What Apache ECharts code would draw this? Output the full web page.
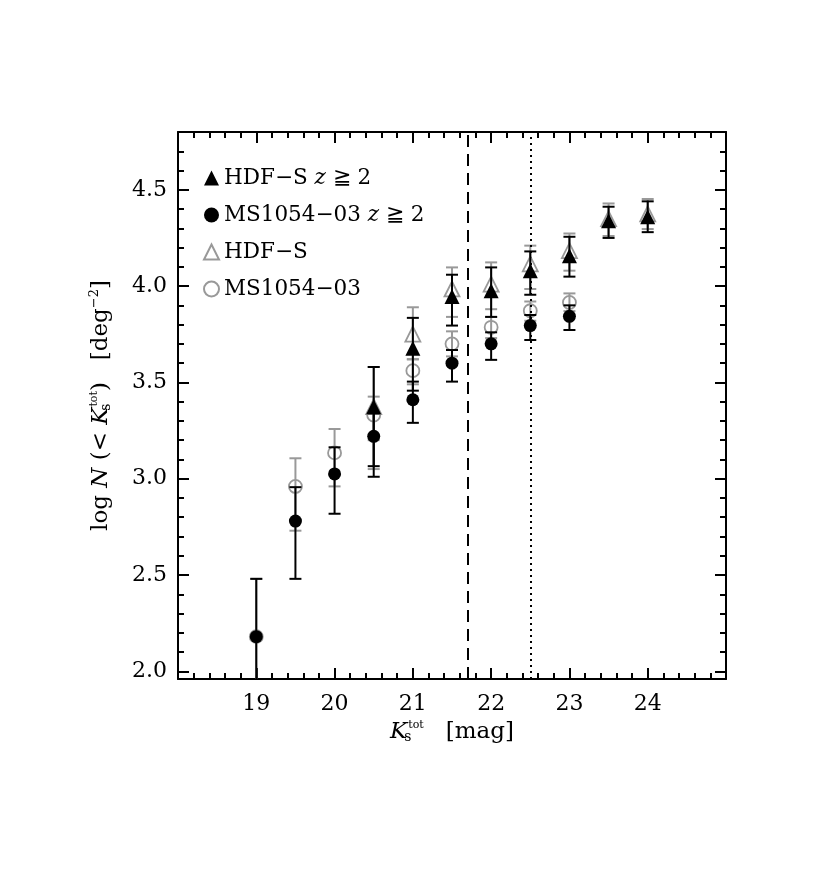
<!DOCTYPE html>
<html><head><meta charset="utf-8">
<script src="https://cdn.jsdelivr.net/npm/echarts@6/dist/echarts.min.js"></script>
<style>html,body{margin:0;padding:0;background:#fff}#c{width:830px;height:891px}</style>
</head><body><div id="c"></div>
<script>
// ---------- data ----------
// MS1054-03 z>=2 (black filled circles)
const msZ2Mag = [19, 19.5, 20, 20.5, 21, 21.5, 22, 22.5, 23];
const msZ2Val = [2.18, 2.78, 3.025, 3.22, 3.41, 3.60, 3.70, 3.795, 3.843];
const msZ2Lo  = [1.88, 2.48, 2.818, 3.065, 3.29, 3.504, 3.617, 3.72, 3.772];
const msZ2Hi  = [2.48, 2.956, 3.163, 3.34, 3.504, 3.668, 3.76, 3.85, 3.90];
// MS1054-03 all (grey open circles)
const msAllMag = [19, 19.5, 20, 20.5, 21, 21.5, 22, 22.5, 23];
const msAllVal = [2.18, 2.96, 3.134, 3.33, 3.561, 3.70, 3.786, 3.872, 3.915];
const msAllLo  = [1.88, 2.73, 2.96, 3.20, 3.49, 3.635, 3.73, 3.82, 3.87];
const msAllHi  = [2.48, 3.106, 3.258, 3.426, 3.62, 3.765, 3.84, 3.92, 3.962];
// HDF-S z>=2 (black filled triangles)
const hdfZ2Mag = [20.5, 21, 21.5, 22, 22.5, 23, 23.5, 24];
const hdfZ2Val = [3.374, 3.677, 3.946, 3.976, 4.08, 4.158, 4.339, 4.36];
const hdfZ2Lo  = [3.01, 3.457, 3.795, 3.84, 3.955, 4.049, 4.25, 4.28];
const hdfZ2Hi  = [3.58, 3.835, 4.059, 4.097, 4.18, 4.256, 4.412, 4.44];
// HDF-S all (grey open triangles)
const hdfAllMag = [20.5, 21, 21.5, 22, 22.5, 23, 23.5, 24];
const hdfAllVal = [3.374, 3.751, 3.985, 4.01, 4.115, 4.184, 4.35, 4.375];
const hdfAllLo  = [3.05, 3.62, 3.84, 3.88, 3.985, 4.08, 4.26, 4.296];
const hdfAllHi  = [3.58, 3.89, 4.097, 4.123, 4.21, 4.273, 4.429, 4.452];
// completeness limits
const dashedMag = 21.7;
const dottedMag = 22.5;
// axes
const xMin = 18, xMax = 25, yMin = 1.96, yMax = 4.8;
const xMajor = [18, 19, 20, 21, 22, 23, 24, 25];
const xTickLabels = [19, 20, 21, 22, 23, 24];
const yMajor = [2.0, 2.5, 3.0, 3.5, 4.0, 4.5];
const yTickLabels = [2.0, 2.5, 3.0, 3.5, 4.0, 4.5];

// ---------- build ----------
const xMinor = []; for (let i = 0; i <= 35; i++) xMinor.push(+(18 + i * 0.2).toFixed(2));
const yMinor = []; for (let i = 0; i <= 28; i++) yMinor.push(+(2.0 + i * 0.1).toFixed(2));

const F = 'DejaVu Serif';
const BLACK = '#000', GREY = '#999';
const TS = 23;
const rich = {
  r: {fontFamily: F, fontSize: TS, color: BLACK},
  i: {fontFamily: F, fontSize: TS, fontStyle: 'italic', color: BLACK},
  sub: {fontFamily: F, fontSize: 14, color: BLACK, padding: [10, 0, 0, 0], width: 1},
  sup: {fontFamily: F, fontSize: 11, color: BLACK, padding: [0, 0, 13, 0]},
  sup2: {fontFamily: F, fontSize: 13, color: BLACK, padding: [0, 0, 13, 0]}
};

function axis(kind, pos, ticks, len, line, labels, extra) {
  const a = {
    type: 'value', position: pos, min: kind === 'x' ? xMin : yMin, max: kind === 'x' ? xMax : yMax,
    axisLine: {show: line, onZero: false, lineStyle: {color: BLACK, width: 2}},
    axisTick: {show: true, inside: true, length: len, customValues: ticks, lineStyle: {color: BLACK, width: 2}},
    axisLabel: labels ? {show: true, customValues: labels, fontFamily: F, fontSize: 22, color: BLACK, margin: kind === 'x' ? 14 : 11,
      formatter: v => kind === 'x' ? String(v) : v.toFixed(1)} : {show: false},
    splitLine: {show: false}
  };
  return Object.assign(a, extra || {});
}

function errSeries(name, xs, lo, hi, color, z) {
  return {
    type: 'custom', name: name + ' err', z: z, clip: true, silent: true,
    data: xs.map((x, i) => [x, lo[i], hi[i]]),
    encode: {x: 0, y: [1, 2]},
    renderItem(params, api) {
      const x = api.value(0), l = api.value(1), h = api.value(2);
      const p1 = api.coord([x, l]), p2 = api.coord([x, h]);
      const w = 6, st = {stroke: color, lineWidth: 2};
      return {type: 'group', children: [
        {type: 'line', shape: {x1: p1[0], y1: p1[1], x2: p2[0], y2: p2[1]}, style: st},
        {type: 'line', shape: {x1: p1[0] - w, y1: p1[1], x2: p1[0] + w, y2: p1[1]}, style: st},
        {type: 'line', shape: {x1: p2[0] - w, y1: p2[1], x2: p2[0] + w, y2: p2[1]}, style: st}
      ]};
    }
  };
}
function pts(name, xs, ys, symbol, size, filled, color, z) {
  return {
    type: 'scatter', name: name, z: z, symbol: symbol, symbolSize: size,
    data: xs.map((x, i) => [x, ys[i]]),
    itemStyle: filled ? {color: color, opacity: 1} : {color: 'rgba(255,255,255,0)', borderColor: color, borderWidth: 1.8, opacity: 1}
  };
}

const N1 = 'HDF-S z>=2', N2 = 'MS1054-03 z>=2', N3 = 'HDF-S', N4 = 'MS1054-03';
const legendText = {};
legendText[N1] = '{r|HDF−S }{i|z}{r| ≧ 2}';
legendText[N2] = '{r|MS1054−03 }{i|z}{r| ≧ 2}';
legendText[N3] = '{r|HDF−S}';
legendText[N4] = '{r|MS1054−03}';

const option = {
  animation: false,
  backgroundColor: '#fff',
  grid: {left: 178, top: 132, width: 548, height: 547, containLabel: false},
  legend: {
    orient: 'vertical', left: 198, top: 162, itemGap: 15, itemWidth: 15, itemHeight: 15,
    data: [N1, N2, N3, N4], selectedMode: false,
    formatter: n => legendText[n],
    textStyle: {fontFamily: F, fontSize: 21.5, color: BLACK, rich: {
      r: {fontFamily: F, fontSize: 21.5, color: BLACK},
      i: {fontFamily: F, fontSize: 21.5, fontStyle: 'italic', color: BLACK}}}
  },
  xAxis: [
    axis('x', 'bottom', xMajor, 11, true, xTickLabels, {
      name: '{i|K}{sub|s}{sup|tot}{r|   [mag]}', nameLocation: 'middle', nameGap: 35,
      nameTextStyle: {fontFamily: F, fontSize: TS, color: BLACK, rich: rich}}),
    axis('x', 'bottom', xMinor, 6, false, null),
    axis('x', 'top', xMajor, 11, true, null),
    axis('x', 'top', xMinor, 6, false, null)
  ],
  yAxis: [
    axis('y', 'left', yMajor, 11, true, yTickLabels, {
      name: '{r|log }{i|N}{r| (< }{i|K}{sub|s}{sup|tot}{r|)   [deg}{sup2|−2}{r|]}',
      nameLocation: 'middle', nameGap: 64, nameRotate: 90,
      nameTextStyle: {fontFamily: F, fontSize: TS, color: BLACK, rich: rich}}),
    axis('y', 'left', yMinor, 6, false, null),
    axis('y', 'right', yMajor, 11, true, null),
    axis('y', 'right', yMinor, 6, false, null)
  ],
  series: [
    errSeries(N4, msAllMag, msAllLo, msAllHi, GREY, 2),
    pts(N4, msAllMag, msAllVal, 'circle', 13, false, GREY, 3),
    errSeries(N3, hdfAllMag, hdfAllLo, hdfAllHi, GREY, 4),
    pts(N3, hdfAllMag, hdfAllVal, 'triangle', 15, false, GREY, 5),
    errSeries(N2, msZ2Mag, msZ2Lo, msZ2Hi, BLACK, 6),
    pts(N2, msZ2Mag, msZ2Val, 'circle', 13, true, BLACK, 7),
    errSeries(N1, hdfZ2Mag, hdfZ2Lo, hdfZ2Hi, BLACK, 8),
    Object.assign(pts(N1, hdfZ2Mag, hdfZ2Val, 'triangle', 15, true, BLACK, 9), {
      markLine: {
        silent: true, symbol: 'none', label: {show: false},
        data: [
          {xAxis: dashedMag, lineStyle: {color: BLACK, width: 2, type: [12, 7]}},
          {xAxis: dottedMag, lineStyle: {color: BLACK, width: 2, type: [2, 4]}}
        ]
      }
    })
  ]
};
const chart = echarts.init(document.getElementById('c'), null, {renderer: 'canvas'});
chart.setOption(option);
</script>
</body></html>
